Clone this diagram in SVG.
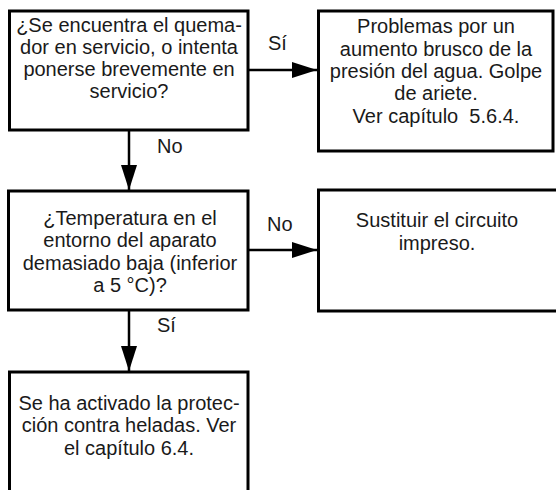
<svg xmlns="http://www.w3.org/2000/svg" width="556" height="490" viewBox="0 0 556 490">
<defs>
<style>
.box{fill:#fff;stroke:#000;stroke-width:3}
.t{font-family:"Liberation Sans",Arial,sans-serif;font-size:20px;fill:#1a1a1a;text-anchor:middle;white-space:pre}
.l{font-family:"Liberation Sans",Arial,sans-serif;font-size:20px;fill:#1a1a1a;white-space:pre}
.c{stroke:#000;stroke-width:2.5;fill:none;marker-end:url(#ah)}
</style>
<marker id="ah" markerUnits="userSpaceOnUse" markerWidth="25" markerHeight="16" refX="25" refY="8" orient="auto" viewBox="0 0 25 16">
<path d="M0,0 L25,8 L0,16 z" fill="#000"/>
</marker>
</defs>
<rect width="556" height="490" fill="#fff"/>
<g id="connectors">
<line class="c" x1="248" y1="70" x2="317" y2="70"/>
<line class="c" x1="129" y1="130" x2="129" y2="190"/>
<line class="c" x1="248" y1="250" x2="317" y2="250"/>
<line class="c" x1="129" y1="310" x2="129" y2="371"/>
<text class="l" x="268" y="50">Sí</text>
<text class="l" x="157" y="153">No</text>
<text class="l" x="267" y="231">No</text>
<text class="l" x="157" y="332">Sí</text>
</g>
<g id="n1">
<rect class="box" x="9.5" y="11" width="238.5" height="119"/>
<text class="t" x="129" y="32">¿Se encuentra el quema-</text>
<text class="t" x="129" y="54">dor en servicio, o intenta</text>
<text class="t" x="129" y="76">ponerse brevemente en</text>
<text class="t" x="129" y="98">servicio?</text>
</g>
<g id="n2">
<rect class="box" x="318.5" y="11" width="234.5" height="140"/>
<text class="t" x="436" y="33">Problemas por un</text>
<text class="t" x="436" y="56">aumento brusco de la</text>
<text class="t" x="436" y="78">presión del agua. Golpe</text>
<text class="t" x="436" y="100">de ariete.</text>
<text class="t" x="436" y="123">Ver capítulo  5.6.4.</text>
</g>
<g id="n3">
<rect class="box" x="8.5" y="191" width="239.5" height="119"/>
<text class="t" x="130" y="225">¿Temperatura en el</text>
<text class="t" x="130" y="247">entorno del aparato</text>
<text class="t" x="130" y="270">demasiado baja (inferior</text>
<text class="t" x="130" y="292">a 5 °C)?</text>
</g>
<g id="n4">
<rect class="box" x="318.5" y="190" width="250" height="121"/>
<text class="t" x="437" y="227">Sustituir el circuito</text>
<text class="t" x="437" y="250">impreso.</text>
</g>
<g id="n5">
<rect class="box" x="9.5" y="372" width="238.5" height="140"/>
<text class="t" x="129" y="410">Se ha activado la protec-</text>
<text class="t" x="129" y="432">ción contra heladas. Ver</text>
<text class="t" x="129" y="455">el capítulo 6.4.</text>
</g>
</svg>
